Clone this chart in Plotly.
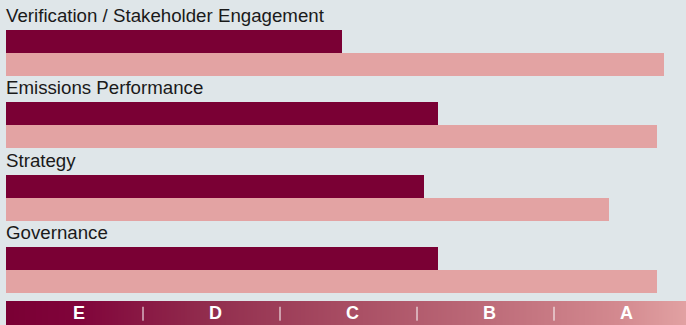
import numpy as np
import plotly.graph_objects as go

# Scoring categories, top to bottom
categories = ["Verification / Stakeholder Engagement", "Emissions Performance",
              "Strategy", "Governance"]
company_score = [49, 63, 61, 63]
sector_best = [96, 95, 88, 95]

# Rating bands along the score axis
grades = ["E", "D", "C", "B", "A"]
grade_edges = [0, 20, 40, 60, 80, 100]

DARK = "#7a0034"
PINK = "#e3a3a3"
BG = "#dfe6e9"

W, H = 686, 325
L = 6
PX_PER_UNIT = 6.85          # horizontal scale: pixels per score point
X_MAX = (W - L) / PX_PER_UNIT
BAND_PX = 24                # height of the grade strip
PITCH = 72.33               # vertical pixels per category
BAR = 23 / PITCH            # bar thickness in category units

main_px = H - BAND_PX
y_top = -41.5 / PITCH
y_bot = (main_px - 41.5) / PITCH

idx = np.arange(len(categories))

fig = go.Figure()
fig.add_trace(go.Bar(
    y=idx, x=company_score, orientation="h", width=BAR,
    marker=dict(color=DARK, line=dict(width=0)),
    hoverinfo="x", showlegend=False,
))
fig.add_trace(go.Bar(
    y=idx + BAR, x=sector_best, orientation="h", width=BAR,
    marker=dict(color=PINK, line=dict(width=0)),
    hoverinfo="x", showlegend=False,
))

# Gradient strip holding the grade letters
n = 240
xe = np.linspace(0, X_MAX, n + 1)
fig.add_trace(go.Heatmap(
    x=xe, y=[0, 1], z=[np.arange(n)], xaxis="x", yaxis="y2",
    colorscale=[[0, "#7a0034"], [0.1, "#80033a"], [0.3, "#922e4e"],
                [0.5, "#a84d63"], [0.7, "#bc6a78"], [0.9, "#d3898f"],
                [1, "#e1a1a2"]],
    showscale=False, hoverinfo="skip", zsmooth="best",
))

annotations = []
for i, name in enumerate(categories):
    annotations.append(dict(
        x=0, y=i - BAR / 2, xref="x", yref="y", text=name, showarrow=False,
        xanchor="left", yanchor="bottom", xshift=-2, yshift=2,
        font=dict(family="Liberation Sans, Arial, sans-serif", size=18.7, color="#1a1a1a"),
    ))
for g, a, b in zip(grades, grade_edges[:-1], grade_edges[1:]):
    annotations.append(dict(
        x=(a + b) / 2, y=0.5, xref="x", yref="y2", text=f"<b>{g}</b>",
        showarrow=False, xanchor="center", yanchor="middle", xshift=4, yshift=0,
        font=dict(family="Liberation Sans, Arial, sans-serif", size=18, color="white"),
    ))

shapes = [dict(type="line", xref="x", yref="y2", x0=e, x1=e, y0=0.18, y1=0.76,
               line=dict(color="white", width=1))
          for e in grade_edges[1:-1]]

fig.update_layout(
    width=W, height=H,
    margin=dict(l=L, r=0, t=0, b=0),
    paper_bgcolor=BG, plot_bgcolor=BG,
    bargap=0, barmode="overlay",
    xaxis=dict(range=[0, X_MAX], visible=False, fixedrange=True),
    yaxis=dict(range=[y_bot, y_top], domain=[BAND_PX / H, 1], visible=False,
               fixedrange=True),
    yaxis2=dict(range=[0, 1], domain=[0, BAND_PX / H], visible=False,
                fixedrange=True),
    annotations=annotations,
    shapes=shapes,
    showlegend=False,
)

fig.write_html("out.html", config={"displayModeBar": False})
